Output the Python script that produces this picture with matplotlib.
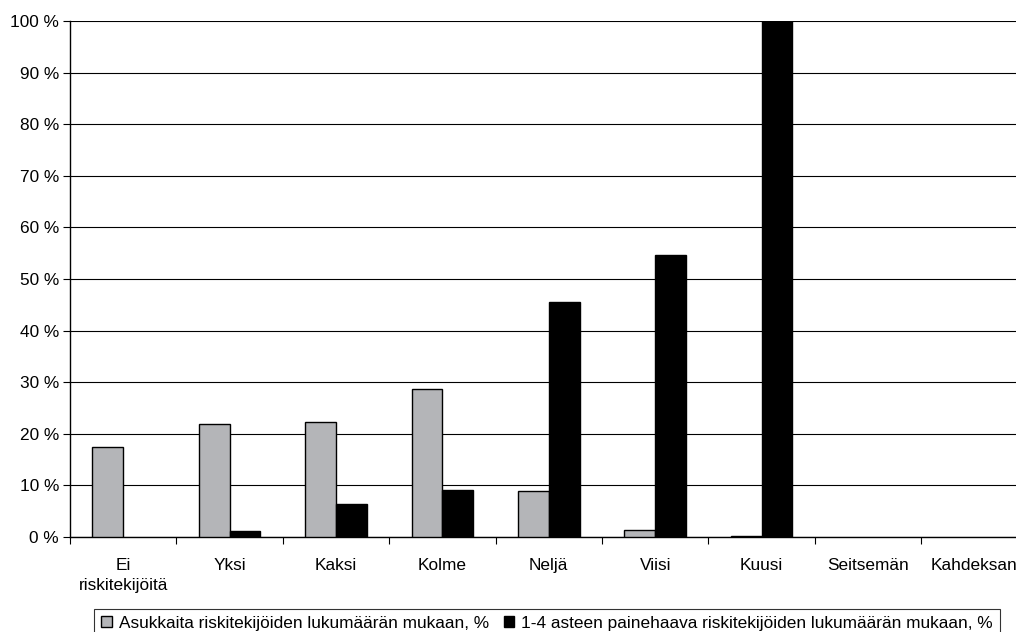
import matplotlib
matplotlib.use("Agg")
import matplotlib.pyplot as plt
import numpy as np
from matplotlib.ticker import FuncFormatter

plt.rcParams['font.family'] = ['Liberation Sans', 'DejaVu Sans']

categories = ["Ei\nriskitekijöitä", "Yksi", "Kaksi", "Kolme", "Neljä",
              "Viisi", "Kuusi", "Seitsemän", "Kahdeksan"]
asukkaat = [17.4, 21.9, 22.3, 28.7, 8.9, 1.3, 0.2, 0.0, 0.0]
painehaava = [0.0, 1.1, 6.4, 9.2, 45.5, 54.6, 100.0, 0.0, 0.0]
series_labels = ["Asukkaita riskitekijöiden lukumäärän mukaan, %",
                 "1-4 asteen painehaava riskitekijöiden lukumäärän mukaan, %"]

FS = 12.45
W, H = 1016, 632
fig = plt.figure(figsize=(W / 100, H / 100), dpi=100)
ax = fig.add_axes([70 / W, (H - 537) / H, 957.6 / W, 516 / H])

x = np.arange(len(categories))
bw = 0.29


def edges(vals):
    # empty bars get no outline
    return ['black' if v > 0 else 'none' for v in vals]


b1 = ax.bar(x - bw / 2, asukkaat, bw, color='#b4b5b8', edgecolor=edges(asukkaat),
            linewidth=1.0, zorder=3)
b2 = ax.bar(x + bw / 2, painehaava, bw, color='black', edgecolor=edges(painehaava),
            linewidth=1.0, zorder=3)

ax.set_xlim(-0.5, len(categories) - 0.5)
ax.set_ylim(0, 100)
ax.set_yticks(np.arange(0, 101, 10))
ax.yaxis.set_major_formatter(FuncFormatter(lambda v, p: f"{int(v)} %"))
ax.yaxis.grid(True, color='black', linewidth=0.8, zorder=0)
ax.set_axisbelow(True)

ax.set_xticks(x)
ax.set_xticklabels(categories, linespacing=1.45)
ax.set_xticks(np.arange(-0.5, len(categories), 1.0), minor=True)
ax.tick_params(axis='x', which='major', length=0, pad=15, labelsize=FS)
ax.tick_params(axis='x', which='minor', length=5, width=0.8, direction='out')
ax.tick_params(axis='y', length=5, width=0.8, direction='out', labelsize=FS, pad=3)

for s in ['top', 'right']:
    ax.spines[s].set_visible(False)
ax.spines['left'].set_linewidth(1.0)
ax.spines['bottom'].set_linewidth(1.0)

leg = fig.legend([b1[0], b2[4]], series_labels, ncol=2, loc='upper center',
                 bbox_to_anchor=(547 / W, 1 - 609 / H), fontsize=FS,
                 frameon=True, fancybox=False, edgecolor='black',
                 handlelength=0.62, handleheight=0.62, handletextpad=0.4,
                 columnspacing=0.85, borderpad=0.4, borderaxespad=0)
leg.get_frame().set_linewidth(0.8)

fig.savefig("out.png", dpi=100)
